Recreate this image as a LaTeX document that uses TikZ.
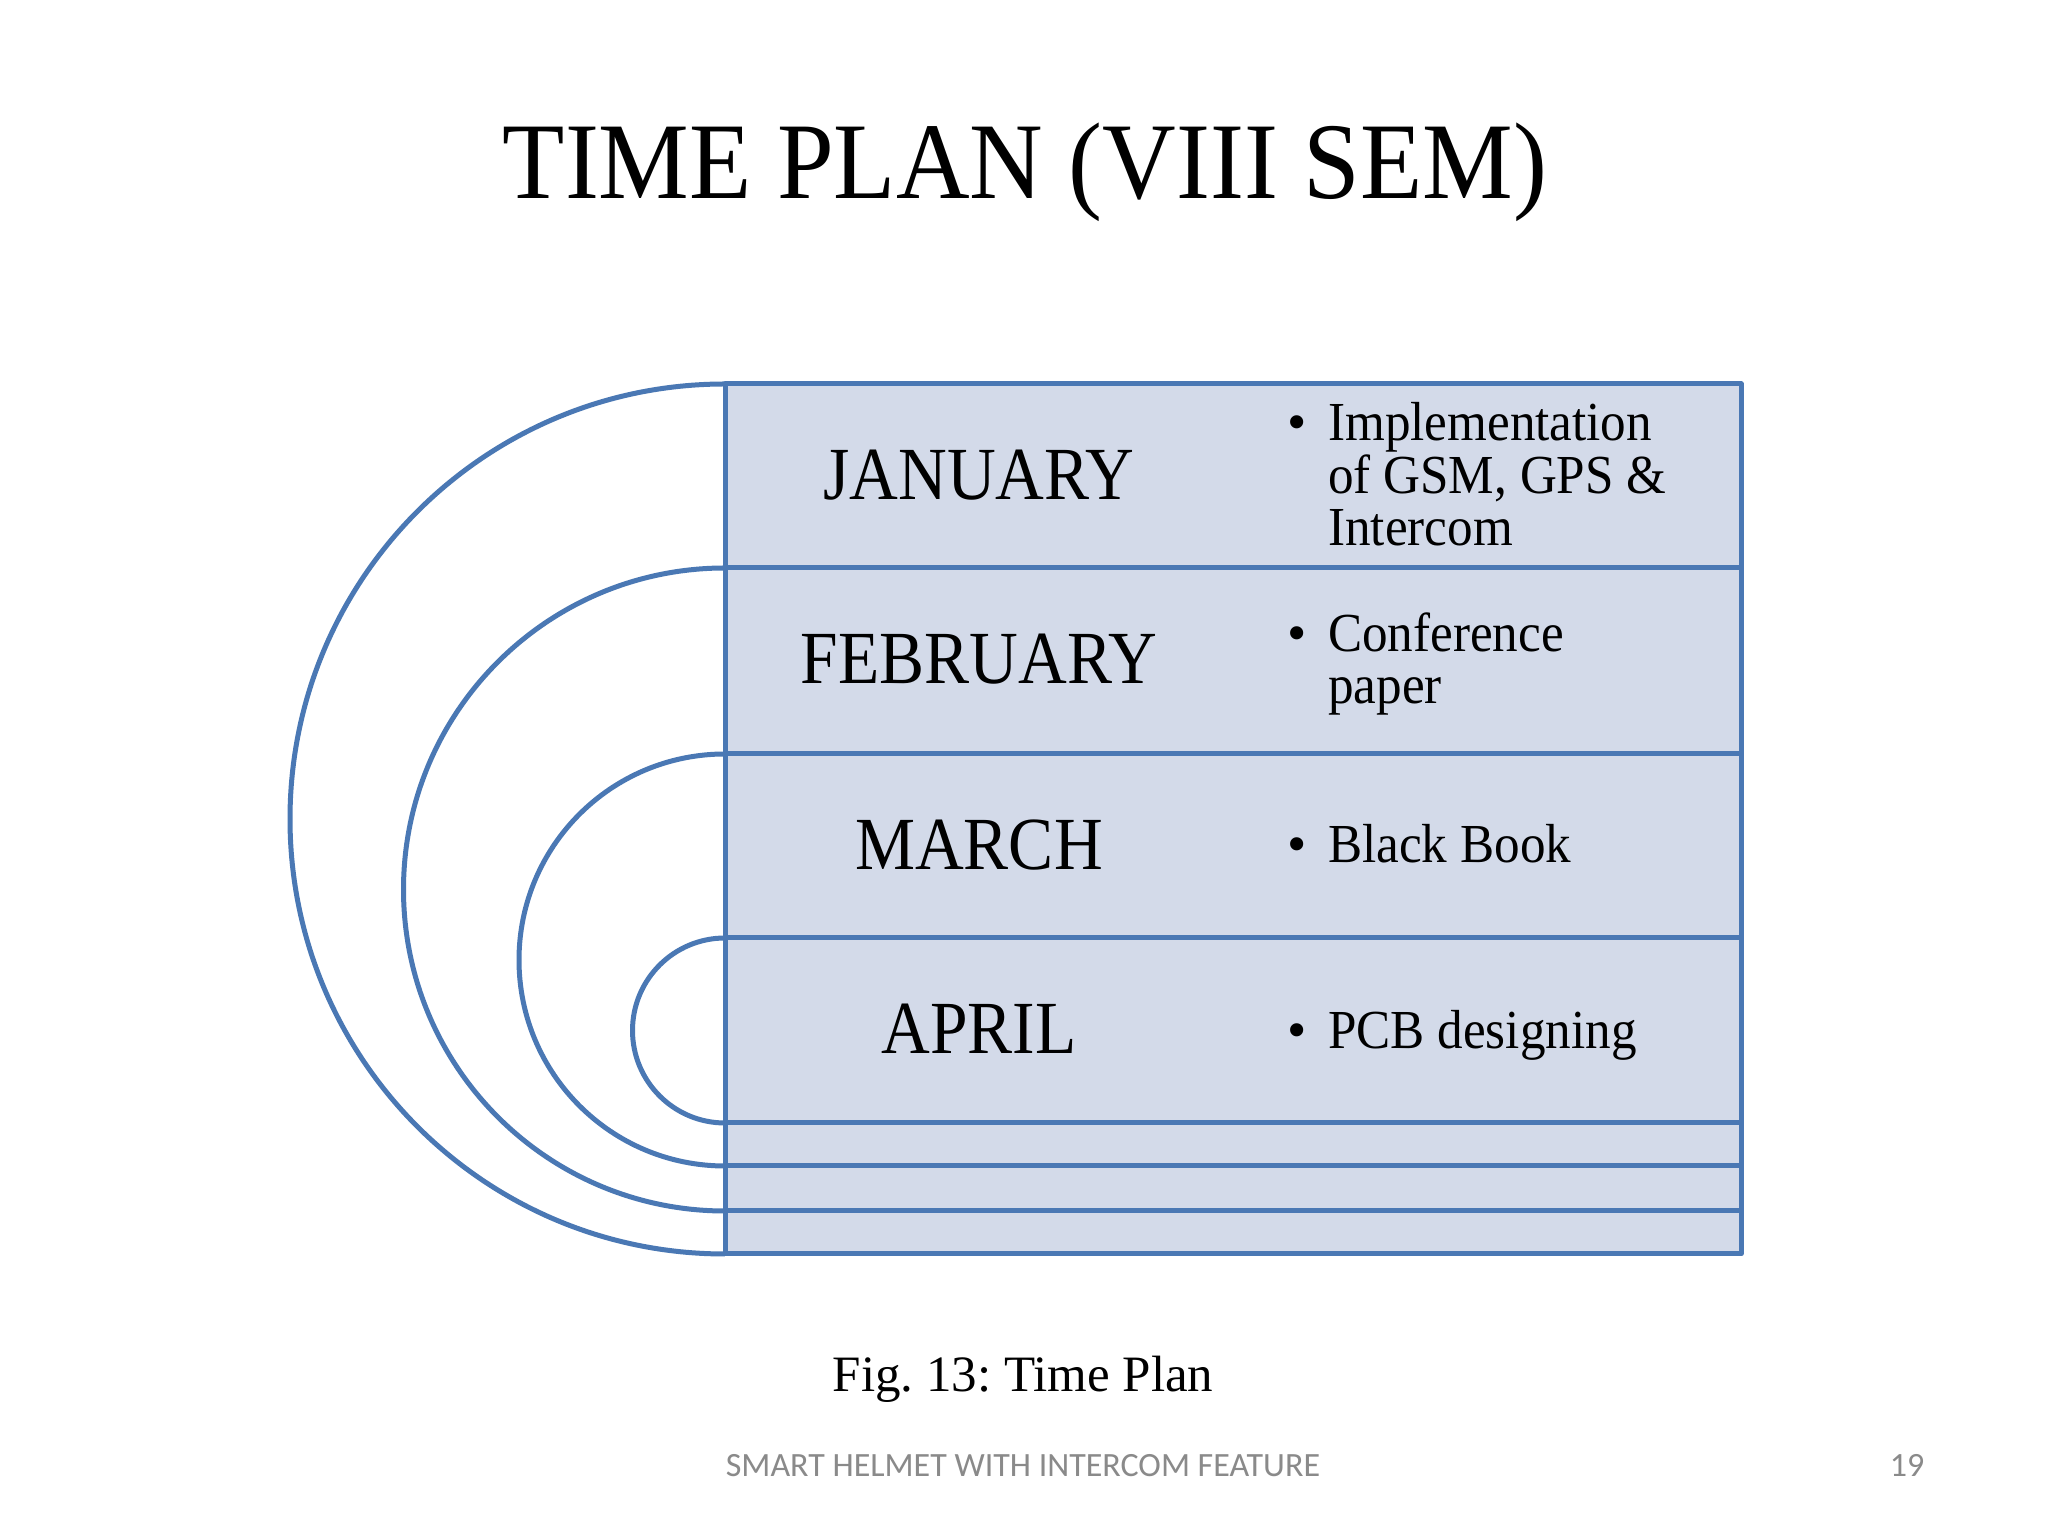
\documentclass[tikz,border=0pt]{standalone}
\usepackage{fontspec}
\setmainfont{Liberation Serif}
\newfontfamily\footfont{Carlito}
\frenchspacing
\definecolor{rowfill}{HTML}{D3DAE9}
\definecolor{rowline}{HTML}{4A78B4}
\definecolor{footgray}{HTML}{8A8A8A}
\tikzset{
  rowshape/.style={draw=rowline, line width=5pt, line join=round},
  month/.style={font=\fontsize{75}{75}\selectfont, anchor=base, inner sep=0pt, xscale=0.9},
  item/.style={font=\fontsize{55}{55}\selectfont, anchor=base west, inner sep=0pt, xscale=0.93},
  bulletmark/.style={font=\fontsize{55}{55}\selectfont, anchor=base, inner sep=0pt}
}
\begin{document}
\begin{tikzpicture}[x=1pt,y=1pt]
\useasboundingbox (0,0) rectangle (2048,1536);
\fill[white] (0,0) rectangle (2048,1536);
% title
\node[font=\fontsize{109}{109}\selectfont, anchor=base, inner sep=0pt, xscale=0.935] (title) at (1025,1337) {TIME PLAN (VIII SEM)};
% shapes: semicircle + rectangle, outer to inner
\foreach \t/\b/\r [count=\i] in {1152/282/435, 968/325/321.5, 782/370/206, 598/413/92.5}{
  \fill[white] (725,\t) arc[start angle=90,end angle=270,radius=\r] -- cycle;
  \fill[rowfill] (725,\t) rectangle (1741,\b);
  \draw[rowshape] (725,\t) arc[start angle=90,end angle=270,radius=\r];
  \draw[rowshape] (725,\t) rectangle (1741,\b);
}
% months
\node[month] (jan) at (979,1036) {JANUARY};
\node[month] (feb) at (979,852) {FEBRUARY};
\node[month] (mar) at (979,666) {MARCH};
\node[month] (apr) at (979,482) {APRIL};
% bullets
\node[bulletmark] (b1) at (1297,1095) {•};
\node[item] (t1a) at (1328,1095) {Implementation};
\node[item] (t1b) at (1328,1042) {of GSM, GPS \&};
\node[item] (t1c) at (1328,990) {Intercom};
\node[bulletmark] (b2) at (1297,884) {•};
\node[item] (t2a) at (1328,884) {Conference};
\node[item] (t2b) at (1328,832) {paper};
\node[bulletmark] (b3) at (1297,673) {•};
\node[item] (t3a) at (1328,673) {Black Book};
\node[bulletmark] (b4) at (1297,487) {•};
\node[item] (t4a) at (1328,487) {PCB designing};
% caption
\node[font=\fontsize{51}{51}\selectfont, anchor=base, inner sep=0pt] (cap) at (1023,144) {Fig. 13: Time Plan};
% footer
\node[font=\footfont\fontsize{34}{34}\selectfont, text=footgray, anchor=base, inner sep=0pt] (foot) at (1023,59) {SMART HELMET WITH INTERCOM FEATURE};
\node[font=\footfont\fontsize{34}{34}\selectfont, text=footgray, anchor=base, inner sep=0pt] (pg) at (1907,59) {19};
\end{tikzpicture}
\end{document}
